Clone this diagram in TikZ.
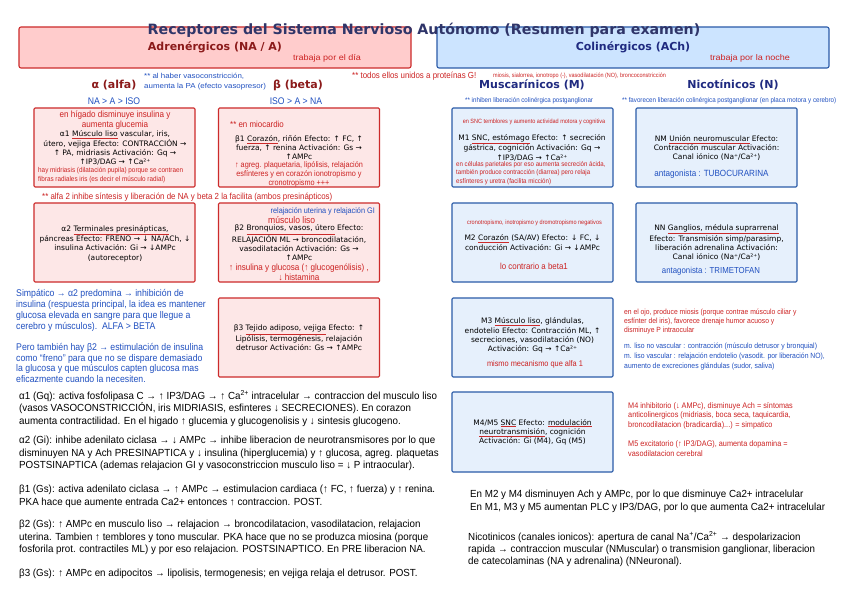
\documentclass[tikz,border=0pt]{standalone}
\usepackage{fontspec}
\setmainfont{DejaVu Sans}
\newfontfamily\nar[FakeStretch=0.9]{Liberation Sans}
\newfontfamily\narw[FakeStretch=0.95]{Liberation Sans}
\newfontfamily\wid[FakeStretch=1.1]{Liberation Sans}
\definecolor{adrline}{HTML}{CC2B2B}
\definecolor{adrfill}{HTML}{FDE7E7}
\definecolor{adrhead}{HTML}{FFCCCC}
\definecolor{colline}{HTML}{2B5BA8}
\definecolor{colfill}{HTML}{E6F0FC}
\definecolor{colhead}{HTML}{CCE4FF}
\definecolor{darkred}{HTML}{8B1A1A}
\definecolor{navy}{HTML}{1F2A80}
\definecolor{titlec}{HTML}{2F3569}
\definecolor{notered}{HTML}{CC2222}
\definecolor{noteblue}{HTML}{2050C0}
\newcommand\sq[1]{\textcolor{adrline}{\underline{\textcolor{black}{#1}}}}
\newcommand\fsz[2]{\fontsize{#1}{#2}\selectfont}
\newcommand\nfs[1]{\nar\fontsize{#1}{\fpeval{#1*1.2}}\selectfont}

\begin{document}
\begin{tikzpicture}[x=1pt,y=-1pt,
    adrbox/.style={draw=adrline,fill=adrfill,line width=1.1pt,rounded corners=1.2pt,minimum width=161pt,minimum height=79pt,inner sep=0pt},
    colbox/.style={draw=colline,fill=colfill,line width=1.1pt,rounded corners=1.2pt,minimum width=161pt,minimum height=79pt,inner sep=0pt},
    body/.style={inner sep=0pt,align=center,font=\fsz{7.5}{9.2}},
    rednote/.style={inner sep=0pt,text=notered,font={\nfs{#1}}},
    bluenote/.style={inner sep=0pt,text=noteblue,font={\nfs{#1}}},
    head/.style={inner sep=0pt,font=\bfseries\fsz{11}{13}},
    para/.style={inner sep=0pt,anchor=west,align=left,font=\narw\fsz{10.3}{12.5}}]
    \useasboundingbox[fill=white] (0,0) rectangle (848,604);
    % headers
    \node[draw=adrline,fill=adrhead,line width=1.1pt,rounded corners=2pt,minimum width=392pt,minimum height=41pt] (adr) at (215,47.5) {};
    \node[draw=colline,fill=colhead,line width=1.1pt,rounded corners=2pt,minimum width=392pt,minimum height=41pt] (col) at (633,47.5) {};
    \node[inner sep=0pt,text=titlec,font=\bfseries\fsz{14.2}{16}] (title) at (424,30) {Receptores del Sistema Nervioso Autónomo (Resumen para examen)};
    \node[head,text=darkred] (adrt) at (215,47) {Adrenérgicos (NA / A)};
    \node[rednote=8,font=\wid\fsz{8.2}{10}] (dia) at (327,58) {trabaja por el día};
    \node[head,text=navy] (colt) at (633,47) {Colinérgicos (ACh)};
    \node[rednote=8,font=\wid\fsz{8.2}{10}] (noche) at (750,58) {trabaja por la noche};
    % subtitulos
    \node[head,text=darkred] (alfa) at (114,85) {α (alfa)};
    \node[bluenote=9.6] (alfaord) at (114,101) {NA > A > ISO};
    \node[bluenote=7,font=\wid\fsz{7.2}{10},anchor=west,align=left] (vaso) at (144,82) {** al haber vasoconstricción,\\aumenta la PA (efecto vasopresor)};
    \node[head,text=darkred] (beta) at (298,85) {β (beta)};
    \node[bluenote=9.6] (betaord) at (296,101) {ISO > A > NA};
    \node[rednote=8.8,anchor=west] (protg) at (352,76) {** todos ellos unidos a proteínas G!};
    \node[rednote=6.1,anchor=west] (miosis) at (493,76) {miosis, sialorrea, ionotropo (-), vasodilatación (NO), broncoconstricción};
    \node[head,text=navy] (musc) at (532,85) {Muscarínicos (M)};
    \node[head,text=navy] (nico) at (733,85) {Nicotínicos (N)};
    \node[bluenote=6.85,anchor=west] (inhib) at (465,101) {** inhiben liberación colinérgica postganglionar};
    \node[bluenote=6.9,anchor=west] (favor) at (622,101) {** favorecen liberación colinérgica postganglionar (en placa motora y cerebro)};
    % alfa 1 / beta 1
    \node[adrbox] (a1) at (114.5,147.5) {};
    \node[rednote=9,font=\nar\fsz{9}{10},align=center] (a1r) at (115,120) {en hígado disminuye insulina y\\aumenta glucemia};
    \node[body] (a1t) at (115,148) {α1 \sq{Músculo liso} vascular, iris,\\útero, vejiga Efecto: CONTRACCIÓN →\\↑ PA, midriasis Activación: Gq →\\↑IP3/DAG → ↑Ca²⁺};
    \node[rednote=7,font=\nar\fsz{7.05}{8.5},anchor=west,align=left] (a1n) at (38,175) {hay midriasis (dilatación pupila) porque se contraen\\fibras radiales iris (es decir el músculo radial)};
    \node[adrbox] (b1) at (299,147.5) {};
    \node[rednote=8.8,anchor=west] (b1r) at (230,124) {** en miocardio};
    \node[body] (b1t) at (299,147.5) {β1 \sq{Corazón}, riñón Efecto: ↑ FC, ↑\\fuerza, ↑ renina Activación: Gs →\\↑AMPc};
    \node[rednote=8,font=\nar\fsz{8.1}{9},align=center] (b1n) at (299,174) {↑ agreg. plaquetaria, lipólisis, relajación\\esfínteres y en corazón ionotropismo y\\cronotropismo +++};
    \node[rednote=8.8,anchor=west] (a2b2) at (42,197) {** alfa 2 inhibe síntesis y liberación de NA y beta 2 la facilita (ambos presinápticos)};
    % alfa 2 / beta 2
    \node[adrbox] (a2) at (114.5,242.5) {};
    \node[body] (a2t) at (115,243.5) {α2 \sq{Terminales presinápticas,}\\páncreas Efecto: FRENO → ↓ NA/ACh, ↓\\insulina Activación: Gi → ↓AMPc\\(autoreceptor)};
    \node[adrbox] (b2) at (299,242.5) {};
    \node[bluenote=8.1,anchor=east] (b2u) at (375,211) {relajación uterina y relajación GI};
    \node[rednote=9.5,anchor=west] (b2m) at (268,220) {músculo liso};
    \node[body] (b2t) at (299,243) {β2 \sq{Bronquios, vasos, útero} Efecto:\\RELAJACIÓN ML → broncodilatación,\\vasodilatación Activación: Gs →\\↑AMPc};
    \node[rednote=9,font=\nar\fsz{9}{9.5},align=center] (b2n) at (299,272.5) {↑ insulina y glucosa (↑ glucogenólisis) ,\\↓ histamina};
    % simpatico / beta 3
    \node[bluenote=9.7,anchor=west,align=left,font=\nar\fsz{9.7}{11}] (simp) at (16,310.5) {Simpático → α2 predomina → inhibición de\\insulina (respuesta principal, la idea es mantener\\glucosa elevada en sangre para que llegue a\\cerebro y músculos).\ \ ALFA > BETA};
    \node[bluenote=9.7,anchor=west,align=left,font=\nar\fsz{9.7}{10.8}] (freno) at (16,363) {Pero también hay β2 → estimulación de insulina\\como “freno” para que no se dispare demasiado\\la glucosa y que músculos capten glucosa mas\\eficazmente cuando la necesiten.};
    \node[adrbox] (b3) at (299,337.5) {};
    \node[body] (b3t) at (299,338) {β3 \sq{Tejido adiposo, vejiga} Efecto: ↑\\Lipólisis, termogénesis, relajación\\detrusor Activación: Gs → ↑AMPc};
    % M1 / NM
    \node[colbox] (m1) at (532.5,147.5) {};
    \node[rednote=6.15] (m1r) at (534,122) {en SNC temblores y aumento actividad motora y cognitiva};
    \node[body] (m1t) at (532,147.5) {M1 \sq{SNC, estómago} Efecto: ↑ secreción\\gástrica, cognición Activación: Gq →\\↑IP3/DAG → ↑Ca²⁺};
    \node[rednote=6.8,font=\nar\fsz{6.8}{8.5},anchor=west,align=left] (m1n) at (456,173) {en células parietales por eso aumenta secreción ácida,\\también produce contracción (diarrea) pero relaja\\esfínteres y uretra (facilita micción)};
    \node[colbox] (nm) at (716.5,147.5) {};
    \node[body] (nmt) at (716.5,148) {NM \sq{Unión neuromuscular} Efecto:\\Contracción muscular Activación:\\Canal iónico (Na⁺/Ca²⁺)};
    \node[bluenote=9] (nma) at (711.5,174) {antagonista : TUBOCURARINA};
    % M2 / NN
    \node[colbox] (m2) at (532.5,242.5) {};
    \node[rednote=6.15] (m2r) at (534.5,223) {cronotropismo, inotropismo y dromotropismo negativos};
    \node[body] (m2t) at (532.5,242.5) {M2 \sq{Corazón} (SA/AV) Efecto: ↓ FC, ↓\\conducción Activación: Gi → ↓AMPc};
    \node[rednote=8.8] (m2n) at (534,266) {lo contrario a beta1};
    \node[colbox] (nn) at (716.5,242.5) {};
    \node[body] (nnt) at (716.5,242.5) {NN \sq{Ganglios, médula suprarrenal}\\Efecto: Transmisión simp/parasimp,\\liberación adrenalina Activación:\\Canal iónico (Na⁺/Ca²⁺)};
    \node[bluenote=8.7] (nna) at (711,271) {antagonista : TRIMETOFAN};
    % M3
    \node[colbox] (m3) at (532.5,337.5) {};
    \node[body] (m3t) at (532.5,335.5) {M3 \sq{Músculo liso}, glándulas,\\endotelio Efecto: Contracción ML, ↑\\secreciones, vasodilatación (NO)\\Activación: Gq → ↑Ca²⁺};
    \node[rednote=8.2] (m3n) at (535,364) {mismo mecanismo que alfa 1};
    \node[rednote=7.5,font=\nar\fsz{7.5}{9},anchor=west,align=left] (ojo) at (624,322) {en el ojo, produce miosis (porque contrae músculo ciliar y\\esfínter del iris), favorece drenaje humor acuoso y\\disminuye P intraocular};
    \node[bluenote=7.6,font=\nar\fsz{7.6}{10},anchor=west,align=left] (mliso) at (624,356) {m. liso no vascular : contracción (músculo detrusor y bronquial)\\m. liso vascular : relajación endotelio (vasodit. por liberación NO),\\aumento de excreciones glándulas (sudor, saliva)};
    % M4/M5
    \node[colbox,minimum height=80pt] (m45) at (532.5,432) {};
    \node[body] (m45t) at (532.5,432) {M4/M5 \sq{SNC} Efecto: \sq{modulación}\\\sq{neurotransmisión}, cognición\\Activación: Gi (M4), Gq (M5)};
    \node[rednote=8,font=\nar\fsz{8.1}{9.5},anchor=west,align=left] (m4n) at (628,415.5) {M4 inhibitorio (↓ AMPc), disminuye Ach = síntomas\\anticolinergicos (midriasis, boca seca, taquicardia,\\broncodilatacion (bradicardia)...) = simpatico};
    \node[rednote=8,font=\nar\fsz{8.1}{10},anchor=west,align=left] (m5n) at (628,448.5) {M5 excitatorio (↑ IP3/DAG), aumenta dopamina =\\vasodilatacion cerebral};
    % textos inferiores
    \node[para] (pa1) at (19,408.5) {α1 (Gq): activa fosfolipasa C → ↑ IP3/DAG → ↑ Ca\textsuperscript{2+} intracelular → contraccion del musculo liso\\(vasos VASOCONSTRICCIÓN, iris MIDRIASIS, esfinteres ↓ SECRECIONES). En corazon\\aumenta contractilidad. En el higado ↑ glucemia y glucogenolisis y ↓ sintesis glucogeno.};
    \node[para] (pa2) at (19,453.5) {α2 (Gi): inhibe adenilato ciclasa → ↓ AMPc → inhibe liberacion de neurotransmisores por lo que\\disminuyen NA y Ach PRESINAPTICA y ↓ insulina (hiperglucemia) y ↑ glucosa, agreg. plaquetas\\POSTSINAPTICA (ademas relajacion GI y vasoconstriccion musculo liso = ↓ P intraocular).};
    \node[para] (pb1) at (19,496.5) {β1 (Gs): activa adenilato ciclasa → ↑ AMPc → estimulacion cardiaca (↑ FC, ↑ fuerza) y ↑ renina.\\PKA hace que aumente entrada Ca2+ entonces ↑ contraccion. POST.};
    \node[para] (pb2) at (19,537.5) {β2 (Gs): ↑ AMPc en musculo liso → relajacion → broncodilatacion, vasodilatacion, relajacion\\uterina. Tambien ↑ temblores y tono muscular. PKA hace que no se produzca miosina (porque\\fosforila prot. contractiles ML) y por eso relajacion. POSTSINAPTICO. En PRE liberacion NA.};
    \node[para] (pb3) at (19,574) {β3 (Gs): ↑ AMPc en adipocitos → lipolisis, termogenesis; en vejiga relaja el detrusor. POST.};
    \node[para] (pm) at (470,501.5) {En M2 y M4 disminuyen Ach y AMPc, por lo que disminuye Ca2+ intracelular\\En M1, M3 y M5 aumentan PLC y IP3/DAG, por lo que aumenta Ca2+ intracelular};
    \node[para,font=\narw\fsz{10.3}{12}] (pn) at (468,549) {Nicotinicos (canales ionicos): apertura de canal Na\textsuperscript{+}/Ca\textsuperscript{2+} → despolarizacion\\rapida → contraccion muscular (NMuscular) o transmision ganglionar, liberacion\\de catecolaminas (NA y adrenalina) (NNeuronal).};
\end{tikzpicture}
\end{document}
